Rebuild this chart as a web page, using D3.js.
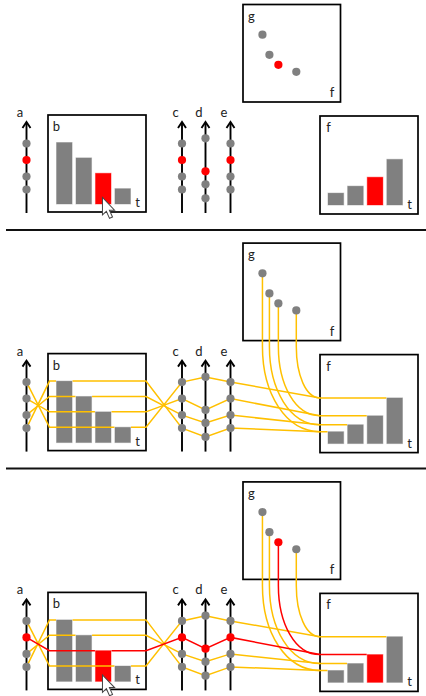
<!DOCTYPE html>
<html>
<head>
<meta charset="utf-8">
<script src="https://cdn.jsdelivr.net/npm/d3@7"></script>
<style>
  body { margin: 0; background: #fff; }
  svg { display: block; }
  text { font-family: Lato, "Open Sans", sans-serif; font-size: 13px; fill: #222; }
</style>
</head>
<body>
<div id="chart"></div>
<script>
// values per record, t = 0..3
var tValues = [0, 1, 2, 3];
var aValues = [23.5, 36.5, 53, 69.5];
var bValues = [4, 3, 2, 1];
var cValues = [23.5, 36.5, 53, 69.5];
var dValues = [14.7, 28.7, 41.7, 74.7];
var eValues = [23.5, 36.5, 53, 69.5];
var fValues = [12, 19, 28, 46];
var gValues = [67, 47, 37, 30];
var selected = 2;

var orange = "#ffc000", red = "#ff0000", grey = "#808080";

var svg = d3.select("#chart").append("svg")
    .attr("width", 426)
    .attr("height", 696);

// scales
var axisX = {a: 26.5, c: 182, d: 205.5, e: 230.5};
var axisY = d3.scaleLinear().domain([0, 91]).range([213, 122]);
var bx = d3.scaleBand().domain(tValues).range([56.5, 130.5]).paddingInner(0.2);
var by = d3.scaleLinear().domain([0, 4]).range([204, 142.5]);
var fx = d3.scaleBand().domain(tValues).range([328, 402.5]).paddingInner(0.2);
var fy = d3.scaleLinear().domain([0, 46]).range([205, 159.3]);
var gx = d3.scaleLinear().domain([0, 46]).range([250.5, 296.3]);
var gy = d3.scaleLinear().domain([0, 67]).range([102, 34.7]);

var boxB = {x: 48, y: 115, w: 98, h: 97};
var boxF = {x: 320, y: 116, w: 98, h: 98};
var boxG = {x: 243, y: 4.5, w: 97.5, h: 97.5};

function color(t, highlight) {
    return highlight && t === selected ? red : grey;
}

function drawAxis(g, x, label) {
    var y0 = axisY.range()[0], y1 = axisY.range()[1];
    g.append("line")
        .attr("x1", x).attr("x2", x)
        .attr("y1", y0).attr("y2", y1 + 1)
        .attr("stroke", "#000")
        .attr("stroke-width", 1.9);
    g.append("path")
        .attr("d", d3.line()([[x - 4, y1 + 6], [x, y1], [x + 4, y1 + 6]]))
        .attr("fill", "none")
        .attr("stroke", "#000")
        .attr("stroke-width", 1.9);
    g.append("text")
        .attr("x", x - 6.5).attr("y", y1 - 5)
        .attr("text-anchor", "middle")
        .text(label);
}

function drawBox(g, box, tl, br) {
    g.append("rect")
        .attr("x", box.x).attr("y", box.y)
        .attr("width", box.w).attr("height", box.h)
        .attr("fill", "#fff")
        .attr("stroke", "#000")
        .attr("stroke-width", 1.7);
    g.append("text").attr("x", box.x + 8.5).attr("y", box.y + 16).attr("text-anchor", "middle").text(tl);
    g.append("text").attr("x", box.x + box.w - 8.5).attr("y", box.y + box.h - 5).attr("text-anchor", "middle").text(br);
}

function drawBars(g, x, y, values, highlight) {
    g.selectAll(null)
        .data(values)
        .enter().append("rect")
        .attr("x", function(d, i) { return x(i); })
        .attr("y", function(d) { return y(d); })
        .attr("width", x.bandwidth())
        .attr("height", function(d) { return y.range()[0] - y(d); })
        .attr("fill", function(d, i) { return color(i, highlight); })
        .attr("stroke", function(d, i) { return color(i, highlight); })
        .attr("stroke-opacity", 0.4)
        .attr("stroke-width", 1);
}

function drawDots(g, points, highlight) {
    g.selectAll(null)
        .data(points)
        .enter().append("circle")
        .attr("cx", function(d) { return d[0]; })
        .attr("cy", function(d) { return d[1]; })
        .attr("r", 4.1)
        .attr("fill", function(d, i) { return color(i, highlight); });
}

function drawLinks(g, highlight) {
    var line = d3.line();
    // the selected record goes last so red sits on top
    var order = tValues.filter(function(t) { return !(highlight && t === selected); });
    if (highlight) order.push(selected);

    order.forEach(function(t) {
        var stroke = highlight && t === selected ? red : orange;
        var ya = axisY(aValues[t]), yc = axisY(cValues[t]), yd = axisY(dValues[t]), ye = axisY(eValues[t]);
        var yb = by(bValues[t]), yf = fy(fValues[t]);
        var bl = boxB.x + 1.5, br = boxB.x + boxB.w;

        var paths = [
            // a -> b, stops at its own bar
            line([[axisX.a, ya], [bl, yb], [bx(t) - 0.5, yb]]),
            // b -> c -> d -> e -> f
            line([[bx(t) + bx.bandwidth() + 0.5, yb], [br, yb], [axisX.c, yc], [axisX.d, yd],
                  [axisX.e, ye], [boxF.x, yf], [fx(t) - 0.5, yf]])
        ];

        // g -> f, straight down and then bending into the bar height
        var px = gx(fValues[t]), py = gy(gValues[t]);
        var sy = boxG.y + boxG.h + 6;
        var p = d3.path();
        p.moveTo(px, py);
        p.lineTo(px, sy);
        p.bezierCurveTo(px, sy + 0.55 * (yf - sy), px + 0.4 * (boxF.x - px), yf, boxF.x, yf);
        paths.push(p.toString());

        g.selectAll(null)
            .data(paths)
            .enter().append("path")
            .attr("d", function(d) { return d; })
            .attr("fill", "none")
            .attr("stroke", stroke)
            .attr("stroke-width", 1.5);
    });
}

function drawCursor(g) {
    var tip = [bx(selected) + bx.bandwidth() * 0.45, by.range()[0] - 6.5];
    g.append("path")
        .attr("transform", "translate(" + tip[0] + "," + tip[1] + ") scale(1.12)")
        .attr("d", "M0,0L0,15.5L3.5,12.3L6.3,18.6L9,17.4L6.2,11.3L10.8,11.3Z")
        .attr("fill", "#fff")
        .attr("stroke", "#444")
        .attr("stroke-width", 0.9);
}

function drawRow(offset, showLinks, highlight) {
    var g = svg.append("g").attr("transform", "translate(0," + offset + ")");

    drawBox(g, boxB, "b", "t");
    drawBox(g, boxF, "f", "t");
    drawBox(g, boxG, "g", "f");

    drawBars(g, bx, by, bValues, highlight);
    drawBars(g, fx, fy, fValues, highlight);

    Object.keys(axisX).forEach(function(k) { drawAxis(g, axisX[k], k); });

    if (showLinks) drawLinks(g, highlight);

    [[axisX.a, aValues], [axisX.c, cValues], [axisX.d, dValues], [axisX.e, eValues]].forEach(function(s) {
        drawDots(g, s[1].map(function(v) { return [s[0], axisY(v)]; }), highlight);
    });
    drawDots(g, fValues.map(function(v, i) { return [gx(v), gy(gValues[i])]; }), highlight);

    if (highlight) drawCursor(g);
}

drawRow(0, false, true);
drawRow(238.6, true, false);
drawRow(477.4, true, true);

// separators between the three states
svg.selectAll(".sep")
    .data([230, 468.5])
    .enter().append("line")
    .attr("class", "sep")
    .attr("x1", 6).attr("x2", 426)
    .attr("y1", function(d) { return d; })
    .attr("y2", function(d) { return d; })
    .attr("stroke", "#111")
    .attr("stroke-width", 2);
</script>
</body>
</html>
